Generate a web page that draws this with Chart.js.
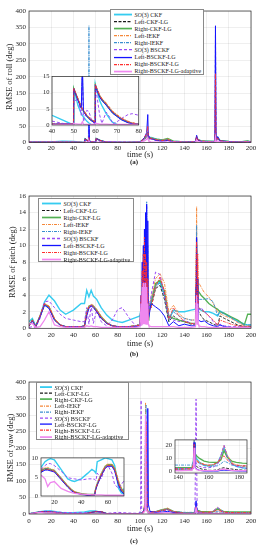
<!DOCTYPE html>
<html><head><meta charset="utf-8">
<script src="https://cdn.jsdelivr.net/npm/chart.js@4/dist/chart.umd.min.js"></script>
<style>
html,body{margin:0;padding:0;background:#fff;width:261px;height:550px;overflow:hidden;font-family:"Liberation Serif",serif;}
canvas{position:absolute;}
.leg{position:absolute;background:#fff;border:0.8px solid #8a8a8a;color:#1a1a1a;box-sizing:border-box;padding-left:2px;}
.leg div{white-space:nowrap;display:flex;align-items:center;}
.leg svg{flex:none;margin-right:1.5px;}
.cap{position:absolute;font-weight:bold;font-size:7px;width:40px;text-align:center;color:#222;}
</style></head><body>
<canvas id="ca" width="261" height="160" style="left:0;top:0"></canvas>
<canvas id="cai" width="110" height="70" style="left:34px;top:70px"></canvas>
<canvas id="cb" width="261" height="165" style="left:0;top:185px"></canvas>
<canvas id="cc" width="261" height="165" style="left:0;top:371px"></canvas>
<canvas id="ccl" width="102" height="56" style="left:26px;top:451px"></canvas>
<canvas id="ccr" width="92" height="50" style="left:160px;top:433px"></canvas>
<div id="lga" class="leg" style="left:110px;top:9px;width:94px;height:66px"></div>
<div id="lgb" class="leg" style="left:38px;top:198px;width:96px;height:64px"></div>
<div id="lgc" class="leg" style="left:36px;top:382px;width:93px;height:58px"></div>
<div class="cap" style="left:114px;top:158px">(a)</div>
<div class="cap" style="left:114px;top:350px">(b)</div>
<div class="cap" style="left:114px;top:537px">(c)</div>
<script>
// ---------- DATA ----------
const seriesNames = ['SO(3) CKF','Left-CKF-LG','Right-CKF-LG','Left-IEKF','Right-IEKF','SO(3) BSCKF','Left-BSCKF-LG','Right-BSCKF-LG','Right-BSCKF-LG-adaptive'];

// (a) roll, main
const tRoll = [0,10,20,30,40,50,50.5,53.5,54,54.5,56,60,60.5,65,70,80,90,100,104,106,107,107.5,108,110,115,120,125,130,140,150,151,152,155,160,167.5,168,168.5,170,172,180,190,197,200];
const rollCKF      = [2,2,2,4,3,0,11,4,20,4,2,0,12,5,1,1,1,2,12,20,28,18,15,15,10,8,8,4,2,3,15,10,5,4,3,40,5,15,6,3,2,4,2];
const rollLeftCKF  = [1,1,1,1,1,0,11,4,15,4,2,1,12,5,1,0.5,0.5,1,10,18,25,15,12,12,8,6,8,3,1,2,12,8,4,3,2,20,4,12,5,2,1,3,1];
const rollRightCKF = [1,1,1,1,1,0,11,4,15,4,2,1,12,5,1,0.5,0.5,1,12,20,26,16,14,14,10,8,12,4,2,2,14,9,5,4,3,25,5,14,6,3,2,5,2];
const rollLeftIEKF = [1,1,1,1,1,0,11,4,15,4,2,1,12,5,1,0.5,0.5,1,12,22,30,18,14,14,9,7,11,3,1,2,18,10,5,3,2,30,5,15,6,2,1,3,1];
const rollRightIEKF= [1,1,1,1,1,0,11,4,355,4,2,1,12,5,1,0.5,0.5,1,14,25,32,20,15,14,9,7,9,3,1,2,20,10,5,3,2,300,5,16,6,2,1,3,1];
const rollBSCKF    = [1,1,1,1,1,0,8,2,40,3,4,0,11,0,3,2,1,1,10,20,28,15,12,10,6,4,6,2,1,2,15,8,3,2,2,350,4,12,4,2,1,2,1];
const rollLeftBS   = [1,1,1,1,1,0,11,4,60,4,2,1,12,5,1,0.5,0.5,1,15,30,85,20,15,12,6,4,6,2,1,2,22,8,3,2,2,355,5,18,5,2,1,2,1];
const rollRightBS  = [1,1,1,1,1,0,11,4,15,4,2,1,12,5,1,0.5,0.5,1,14,28,50,18,14,12,8,6,8,3,1,2,18,9,4,3,2,210,5,14,5,2,1,3,1];
const rollAdaptive = [0.5,0.5,0.5,0.5,0.5,0.3,1,0.5,5,0.5,0.3,0.3,1,0.5,0.3,0.3,0.3,0.5,5,10,15,8,4,2,1,1,1,1,0.5,1,8,3,1,1,1,15,2,5,2,1,0.5,1,0.5];

// (a) roll, zoomed inset 40-80 s
const tRollZoom = [40,45,49.9,50,50.5,52,53.5,54,54.5,56,57,58,59.9,60,60.5,62,63,65,67,68,70,72,75,77,80];
const rzCKF      = [3,1.5,0,11,10,6,3.5,3,2.5,1.2,0.6,0.2,0,12.5,11,7.5,6,3.5,1.5,0.8,0.2,0.1,0.1,0.1,0.1];
const rzLeftCKF  = [0.3,0.3,0.3,11.5,10.5,8,5.5,5,4.5,3,2.3,1.7,0.8,12.5,11.5,9,8,6.5,4.8,4,3,2,1,0.6,0.3];
const rzRightCKF = [0.3,0.3,0.3,11.3,10.3,7.8,5.3,4.8,4.3,2.8,2.1,1.5,0.7,12.3,11.3,8.8,7.8,6.3,4.6,3.8,2.8,1.8,0.8,0.5,0.3];
const rzLeftIEKF = [0.3,0.3,0.3,11.5,10.6,8.2,5.7,5.2,4.7,3.2,2.5,1.9,1.0,12.6,11.7,9.3,8.3,6.8,5.1,4.3,3.2,2.2,1.2,0.7,0.3];
const rzRightIEKF= [0.3,0.3,0.3,11.4,10.4,7.9,5.4,18,4.4,2.9,2.2,1.6,0.8,12.4,11.4,8.9,7.9,6.4,4.7,3.9,2.9,1.9,0.9,0.5,0.3];
const rzBSCKF    = [1.2,0.5,0.2,6,7.5,8,3,18,1,4.5,4.2,2,0,11,10,3,0.5,4,2,0.3,1,2,3.2,3.5,3];
const rzLeftBS   = [0.3,0.3,0.3,11.2,10.2,7.6,5.2,18,4.2,2.7,2,1.4,0.6,12.2,11.2,8.6,7.6,6.1,4.4,3.6,2.6,1.6,0.7,0.4,0.2];
const rzRightBS  = [0.3,0.3,0.3,11.4,10.5,8,5.5,5,4.5,3,2.3,1.7,0.9,12.5,11.5,9,8,6.5,4.8,4,3,2,1,0.6,0.3];
const rzAdaptive = [0.2,0.2,0.2,0.5,0.4,0.3,0.3,1,0.3,0.2,0.2,0.2,0.2,0.6,0.5,0.3,0.3,0.3,0.2,0.2,0.2,0.2,0.2,0.2,0.2];

// (b) pitch
const tPitch = [0,3,6,10,14,18,23,28,33,40, 47,50,52,54,56,58,61,65,70,75, 80,84,90,96,100,101,101.5,102,102.5,103, 103.5,104,104.5,105,105.5,106,106.5,107,107.5,108, 110,114,118,122,126,130,135,140,146,150, 150.5,151,151.5,152,152.5,153,155,158,162,166, 170,172,176,182,188,194,197,200];
const pitchCKF      = [0.8,1.2,0.3,1.5,3.2,4.0,3.3,2.2,1.7,2.2, 3.0,3.0,4.6,3.8,4.6,3.9,3.5,2.5,1.6,1.0, 0.8,0.7,1.0,1.3,1.5, 2.5,1.2,3,1.5,4,2,3.5,1.5,3,1.5,2.5,1.5,2,1.5,2, 3.5,5.2,5.6,4,1.0,2.2,2.0,2.0,2.2, 2.3,3,5,2.5,3,2.5,2.5, 2.2,2.0,2.0,1.8,1.5,2.1,1.8,1.3,0.9,0.5,0.4,0.4];
const pitchLeftCKF  = [0.3,1.0,0.2,1.5,3.0,2.5,1.0,0.4,0.2,0.2, 0.2,0.3,1.8,2.5,2.8,2.6,2.0,1.2,0.6,0.3, 0.2,0.2,0.2,0.3,0.5, 2,0.5,4,1,5,1.5,6,1,8,2,5,1,3,1,3, 2.5,4.8,5.2,3.5,0.8,1.5,1.0,0.8,0.5, 0.5,4,9,3,5,2,2, 1.5,1.0,0.8,0.5,0.3,1.5,1.2,0.8,0.4,0.2,0.2,0.2];
const pitchRightCKF = [0.3,1.0,0.2,1.5,2.9,2.6,1.1,0.4,0.2,0.2, 0.2,0.3,2.0,2.7,2.8,2.7,2.2,1.4,0.7,0.3, 0.2,0.2,0.2,0.3,0.4, 3,0.5,5,1,6,1,7,2,6,1,5,1,3,1,2, 3,5.4,5.8,4.5,1.5,1.2,1.0,0.8,0.6, 0.6,5,10,4,6,4.5,4.5, 4.0,3.6,3.0,2.6,2.3,2.0,1.8,1.4,1.0,0.4,1.7,1.7];
const pitchLeftIEKF = [0.3,1.0,0.2,1.6,3.0,2.7,1.2,0.4,0.2,0.2, 0.2,0.3,1.9,2.7,2.9,2.8,2.3,1.5,0.7,0.3, 0.2,0.2,0.2,0.3,0.4, 2,0.5,4,1,6,1,8,2,7,1,6,1,4,1,3, 3.5,6.0,6.6,5.5,2.0,2.8,1.8,1.2,1.0, 1.0,6,14.7,5,8,5.5,5.5, 5.0,4.3,3.8,3.0,2.0,1.8,1.5,1.2,0.7,0.3,0.3,0.3];
const pitchRightIEKF= [0.3,1.0,0.2,1.4,2.8,2.5,1.0,0.4,0.2,0.2, 0.2,0.3,2.0,2.6,2.8,2.7,2.1,1.3,0.6,0.3, 0.2,0.2,0.2,0.3,0.5, 3,1,6,2,9,2,10,3,12,2,15.3,4,10,2,2, 3,5.0,5.5,4.2,1.2,2.0,1.5,1.2,1.0, 1.0,7,12.5,4,6,3.5,3.5, 3.5,3.5,3.6,3.2,1.5,2.0,1.7,1.3,0.8,0.4,0.4,0.4];
const pitchBSCKF    = [0.1,0.2,0.1,1.2,3.2,3.3,2.5,1.7,1.2,1.0, 0.8,0.8,2.5,0.5,2.8,0.6,2.2,0.8,0.3,1.0, 2.3,2.5,1.3,0.3,0.3, 2,0.5,3,1,4,1,5,2,6,1,4,1,3,1,2, 4,6.8,6.5,4.0,1.5,1.0,0.8,1.0,0.6, 0.5,3,8,2,4,2,2.2, 2.5,2.0,1.5,0.8,0.3,0.5,0.3,0.2,0.2,0.2,0.1,0.1];
const pitchLeftBS   = [0.3,0.9,0.2,1.4,2.8,2.4,1.0,0.4,0.2,0.2, 0.2,0.3,1.5,2.4,2.7,2.5,2.0,1.2,0.6,0.3, 0.2,0.2,0.2,0.2,0.3, 4,0.5,8,1,10,2,12,1,14,2,15,1,13,1,1, 3.0,2.6,2.2,1.5,0.3,0.8,0.3,0.5,0.3, 0.3,5,11,2,6,1,1.0, 0.8,0.9,0.5,0.3,0.2,0.4,0.2,0.1,0.1,0.1,0.1,0.1];
const pitchRightBS  = [0.3,1.0,0.2,1.5,3.0,2.6,1.1,0.4,0.2,0.2, 0.2,0.3,1.8,2.6,2.8,2.6,2.1,1.3,0.6,0.3, 0.2,0.2,0.2,0.3,0.4, 4,1,7,2,9,1,11,3,9,2,8,1,6,1,2, 2.5,5.0,6.2,4.5,1.0,2.5,1.5,0.8,0.6, 0.5,8,10.5,3,9,2.5,2.5, 2.2,2.0,1.5,1.0,0.4,1.0,0.8,0.5,0.3,0.2,0.2,0.2];
const pitchAdaptive = [0.5,0.6,0.1,0.2,1.0,2.0,0.4,0.2,0.1,0.1, 0.1,0.1,0.3,0.2,0.3,0.2,0.2,0.1,0.1,0.1, 0.1,0.1,0.1,0.1,0.2, 3,0.3,5,0.5,5.5,0.5,5,0.5,5.5,0.5,5,0.5,3,0.5,0.3, 0.2,0.2,0.2,0.2,0.2,0.2,0.1,0.1,0.1, 0.2,3,4,0.5,3,0.5,0.3, 0.2,0.2,0.1,0.1,0.1,0.1,0.1,0.1,0.1,0.1,0.1,0.1];

// (c) yaw, main
const tYaw = [0,10,15,20,30,40,50,55,60,65, 70,80,90,99,100.5,101,101.5,103,104.5,105, 105.5,106.5,107,107.5,109,115,120,125,130,140, 149.5,150.5,151.5,155,160,165,170,175,180,190, 200];
const yawCKF      = [0.5,7,9,9,4,4,6,9,9,5, 1,1,1,2,3,3,3,5,20,40, 15,10,8,6,5,8,12,15,8,3, 3,25,10,6,5,6,17,8,4,3, 2];
const yawLeftCKF  = [0.5,6,7,6,2,0.5,0.5,4,7,7, 1,0.5,0.5,1,2,2,2,5,30,250, 20,10,6,5,4,6,10,13,6,2, 1,22,6,3,1,1,3,2,1,1, 1];
const yawRightCKF = [0.5,6,7,6,2,0.5,0.5,4,7,7, 1,0.5,0.5,1,2,2,2,5,25,200, 25,12,8,6,5,8,13,16,8,3, 3,22,12,7,7,6,15,8,7,6, 6];
const yawLeftIEKF = [0.5,6.5,7.5,6.5,2.5,0.5,0.5,4,8,7.5, 1,0.5,0.5,1,2,2,2,5,40,338, 30,12,8,6,5,8,13,18,8,3, 2,24,9,5,5,7,20,7,3,2, 2];
const yawRightIEKF= [0.5,6,7,6,2,0.5,0.5,4,7,7, 1,0.5,0.5,1,2,2,2,5,30,60, 330,15,8,6,5,7,12,15,7,5, 5,24,8,5,4,4,8,5,4,4, 4];
const yawBSCKF    = [0.5,7,8.5,8,4.8,4.2,4.5,5,8,3, 2,5,3,2,10,345,10,5,20,30, 20,10,6,5,4,6,10,13,6,2.5, 2.5,348,10,4,3,6,20,6,3,2, 2];
const yawLeftBS   = [0.5,6,7,6,2,0.5,0.5,4,7,7, 1,0.5,0.5,1,2,2,2,5,20,25, 30,20,320,30,8,5,6,8,4,1, 1,40,3,1,0.5,0.5,1,0.8,0.5,0.5, 0.5];
const yawRightBS  = [0.5,6,7,6,2,0.5,0.5,4,7,7, 1,0.5,0.5,1,2,2,2,5,25,60, 280,15,8,6,5,7,11,14,7,2, 2,21,8,6,5,6,12,6,4.5,4, 4];
const yawAdaptive = [0.5,5,2.5,3.5,1,0.5,0.3,0.2,0.2,0.2, 0.2,0.2,0.2,0.5,1,1,1,3,10,300, 15,8,5,3,2,2,3,4,2,1, 1,18,3,1,0.8,0.8,2,0.8,0.8,0.8, 0.8];

// (c) yaw, left inset 10-72 s
const tYawZoomL = [10,13,15,17,20,25,30,33,35,40, 45,48,50,51,52,55,58,60,63,65, 68,70,72];
const ylCKF      = [7.5,9,9.5,9.8,9.5,7,4.5,4,3.8,4.5, 6,7,6.5,6,9,9.5,10,9.8,9.5,8, 2,0.8,0.5];
const ylLeftCKF  = [6.5,7,7,6.8,6.5,4.5,2.5,1.5,1,0.5, 0.3,0.3,0.3,2,3,5.5,7.5,8,8,7, 3,1.5,0.8];
const ylRightCKF = [6.8,7.2,7.2,7,6.7,4.7,2.6,1.6,1.1,0.6, 0.4,0.4,0.4,2.2,3.2,5.8,7.8,8.2,8.2,7.2, 3.5,2,1];
const ylLeftIEKF = [7,7.5,7.5,7.2,6.8,4.8,2.7,1.7,1.2,0.6, 0.4,0.4,0.4,2.3,3.5,6,8,8.4,8.4,7.5, 4,2,1];
const ylRightIEKF= [6.6,7.1,7.1,6.9,6.6,4.6,2.5,1.5,1.0,0.5, 0.3,0.3,0.3,2.1,3.1,5.6,7.6,8,8,6.8, 3,1,2];
const ylBSCKF    = [7,8,8.5,8.5,8,6.5,4.8,4.6,4.5,4.2, 4.5,4.5,4.4,4,6,4.5,7.5,8,6,3, 2,3,4];
const ylLeftBS   = [6.2,6.8,6.8,6.6,6.3,4.3,2.3,1.3,0.9,0.4, 0.2,0.2,0.2,1.8,2.8,5.3,7.3,7.8,7.8,6.6, 2.8,1.2,0.6];
const ylRightBS  = [6.5,7.1,7,6.8,6.5,4.5,2.5,1.5,1,0.5, 0.3,0.3,0.3,2,3,5.5,7.5,8,8,7, 3.2,1.6,0.9];
const ylAdaptive = [5.5,4.5,2.5,3.5,3.8,2,1.2,0.9,0.7,0.5, 0.4,0.3,0.3,0.3,0.3,0.3,0.2,0.2,0.2,0.2, 0.2,0.2,0.2];

// (c) yaw, right inset 138-185 s
const tYawZoomR = [138,142,146,149,150,150.5,151,152,154,157,160,163,166,168,170,172,175,178,182,185];
const yrCKF      = [2,2,2.2,2.5,5,22,15,10,7,5,4.5,5,7,12,18,12,6,4,3,2.5];
const yrLeftCKF  = [1,1,1,1.2,3,20,8,4,2.5,1.5,1,1,1.5,2.5,3,2.5,2,1.5,1.2,1];
const yrRightCKF = [3,3,3,3,6,22,14,12,10,8,7.2,7,7,9,16,11,8,7,6.5,6.3];
const yrLeftIEKF = [2,2,2.2,2.5,5,24,12,9,7,5.5,4.5,5,7,12,20,13,7,5,4,3.5];
const yrRightIEKF= [5,5,5,5,8,24,12,8,6,4.5,4,4,4.5,6,8,7,5,4.5,4.3,4.2];
const yrBSCKF    = [2.5,2.5,2.5,2.5,6,23,10,6,4,3,3,3.5,6,12,20,12,6,4,3,2.5];
const yrLeftBS   = [1,1,1,1,3,22,4,2,1,0.5,0.5,0.5,0.5,1,1.2,1,0.8,0.6,0.5,0.5];
const yrRightBS  = [2,2,2,2,5,21,10,8,6.5,5.5,5,5.5,7,10,12,9,6,5,4.5,4.5];
const yrAdaptive = [0.8,0.8,1,1,3,18,3,1.5,1,0.8,0.8,0.8,1,1.5,2,1.5,1,0.8,0.8,0.8];

// ---------- STYLE ----------
const colors = ['#36ccf0','#1a1a1a','#52b052','#f5883a','#3a8fd0','#9b4cf5','#1414ff','#ff3030','#ef88ef'];
const dashes = [[],[3,1.5],[],[3,1,1,1],[3,1,1,1],[3,2],[],[3,1,1,1],[]];
const widths = [1.4,0.9,1.3,0.9,0.9,1.0,1.0,0.9,1.3];
const FONT = '"Liberation Serif", serif';
const TXT = '#262626';
const GRID = 'rgba(38,38,38,0.13)';

const boxPlugin = {
  id:'box',
  beforeDraw(c, a, o){
    if(o && o.bg){ const ar=c.chartArea; c.ctx.save(); c.ctx.fillStyle='#fff'; c.ctx.fillRect(ar.left,ar.top,ar.right-ar.left,ar.bottom-ar.top); c.ctx.restore(); }
  },
  afterDatasetsDraw(c){
    const ctx=c.ctx, ar=c.chartArea; ctx.save(); ctx.strokeStyle='#262626'; ctx.lineWidth=0.7; ctx.setLineDash([]);
    ctx.strokeRect(ar.left,ar.top,ar.right-ar.left,ar.bottom-ar.top); ctx.restore();
  }
};

function datasets(t, list){
  return list.map((vals,i)=>({
    label: seriesNames[i],
    data: t.map((x,k)=>({x:x,y:vals[k]})),
    borderColor: colors[i], borderWidth: widths[i], borderDash: dashes[i],
    pointRadius:0, tension:0, fill:false, order: 8-i
  }));
}

function make(id, t, list, o){
  return new Chart(document.getElementById(id), {
    type:'line',
    data:{datasets: datasets(t,list)},
    plugins:[boxPlugin],
    options:{
      animation:false, responsive:false, maintainAspectRatio:false, devicePixelRatio:1,
      layout:{padding:{top:o.padT, right:o.padR, bottom:0, left:0}},
      plugins:{legend:{display:false}, tooltip:{enabled:false}, box:{bg:!!o.bg}},
      scales:{
        x:{type:'linear', min:o.xmin, max:o.xmax,
          ticks:{stepSize:o.xstep, font:{family:FONT,size:o.tick}, color:TXT, padding:o.xtp, maxRotation:0, autoSkip:false, includeBounds:false},
          grid:{color:o.bg?'rgba(38,38,38,0.10)':GRID, lineWidth:0.6, drawTicks:false},
          border:{display:false},
          title:{display:!!o.xtitle, text:o.xtitle||'', font:{family:FONT,size:8.5}, color:TXT, padding:{top:0,bottom:o.xtitlePad||0}},
          afterFit(s){ s.height=o.xh; }
        },
        y:{type:'linear', min:o.ymin, max:o.ymax,
          ticks:{stepSize:o.ystep, font:{family:FONT,size:o.tick}, color:TXT, padding:o.ytp, autoSkip:false, includeBounds:false},
          grid:{color:o.bg?'rgba(38,38,38,0.10)':GRID, lineWidth:0.6, drawTicks:false},
          border:{display:false},
          title:{display:!!o.ytitle, text:o.ytitle||'', font:{family:FONT,size:8.5}, color:TXT, padding:{top:o.ytitlePad||0,bottom:0}},
          afterFit(s){ s.width=o.yw; }
        }
      }
    }
  });
}

make('ca', tRoll, [rollCKF,rollLeftCKF,rollRightCKF,rollLeftIEKF,rollRightIEKF,rollBSCKF,rollLeftBS,rollRightBS,rollAdaptive],
  {padT:11,padR:10,xmin:0,xmax:200,xstep:20,ymin:0,ymax:400,ystep:50,tick:7,xtp:1,ytp:3,xh:17.5,yw:29,xtitle:'time (s)',xtitlePad:0,ytitle:'RMSE of roll (deg)',ytitlePad:4.9});
make('cai', tRollZoom, [rzCKF,rzLeftCKF,rzRightCKF,rzLeftIEKF,rzRightIEKF,rzBSCKF,rzLeftBS,rzRightBS,rzAdaptive],
  {bg:true,padT:6,padR:5,xmin:40,xmax:80,xstep:10,ymin:0,ymax:15,ystep:5,tick:6.5,xtp:2,ytp:2.5,xh:15,yw:18});
make('cb', tPitch, [pitchCKF,pitchLeftCKF,pitchRightCKF,pitchLeftIEKF,pitchRightIEKF,pitchBSCKF,pitchLeftBS,pitchRightBS,pitchAdaptive],
  {padT:11,padR:10,xmin:0,xmax:200,xstep:20,ymin:0,ymax:16,ystep:2,tick:7,xtp:2.5,ytp:3,xh:21.7,yw:29,xtitle:'time (s)',xtitlePad:1.6,ytitle:'RMSE of pitch (deg)',ytitlePad:7.9});
make('cc', tYaw, [yawCKF,yawLeftCKF,yawRightCKF,yawLeftIEKF,yawRightIEKF,yawBSCKF,yawLeftBS,yawRightBS,yawAdaptive],
  {padT:11,padR:10,xmin:0,xmax:200,xstep:20,ymin:0,ymax:400,ystep:50,tick:7,xtp:2.8,ytp:3,xh:22,yw:29,xtitle:'time (s)',xtitlePad:1.9,ytitle:'RMSE of yaw (deg)',ytitlePad:5.9});
make('ccl', tYawZoomL, [ylCKF,ylLeftCKF,ylRightCKF,ylLeftIEKF,ylRightIEKF,ylBSCKF,ylLeftBS,ylRightBS,ylAdaptive],
  {bg:true,padT:5,padR:4,xmin:10,xmax:72,xstep:20,ymin:0,ymax:10,ystep:5,tick:6.5,xtp:2,ytp:3,xh:11,yw:15});
make('ccr', tYawZoomR, [yrCKF,yrLeftCKF,yrRightCKF,yrLeftIEKF,yrRightIEKF,yrBSCKF,yrLeftBS,yrRightBS,yrAdaptive],
  {bg:true,padT:5,padR:5,xmin:138,xmax:185,xstep:20,ymin:-1,ymax:24,ystep:10,tick:6.5,xtp:0.5,ytp:3,xh:10,yw:15});

// ---------- LEGENDS ----------
function legend(id, rowH, fs, sw){
  const el=document.getElementById(id);
  el.style.paddingTop='1px';
  seriesNames.forEach((n,i)=>{
    const r=document.createElement('div'); r.style.height=rowH+'px'; r.style.fontSize=fs+'px';
    const svg=`<svg width="${sw}" height="${rowH}"><line x1="1" x2="${sw-1}" y1="${rowH/2}" y2="${rowH/2}" stroke="${colors[i]}" stroke-width="${widths[i]*1.3}" stroke-dasharray="${dashes[i].join(' ')}"/></svg>`;
    const label = n.startsWith('SO(3)') ? '<i>SO</i>(3)'+n.slice(5) : n;
    r.innerHTML=svg+'<span>'+label+'</span>';
    el.appendChild(r);
  });
}
legend('lga',7.1,6,20);
legend('lgb',7.0,6,21);
legend('lgc',6.2,6.2,14);
</script>
</body></html>
